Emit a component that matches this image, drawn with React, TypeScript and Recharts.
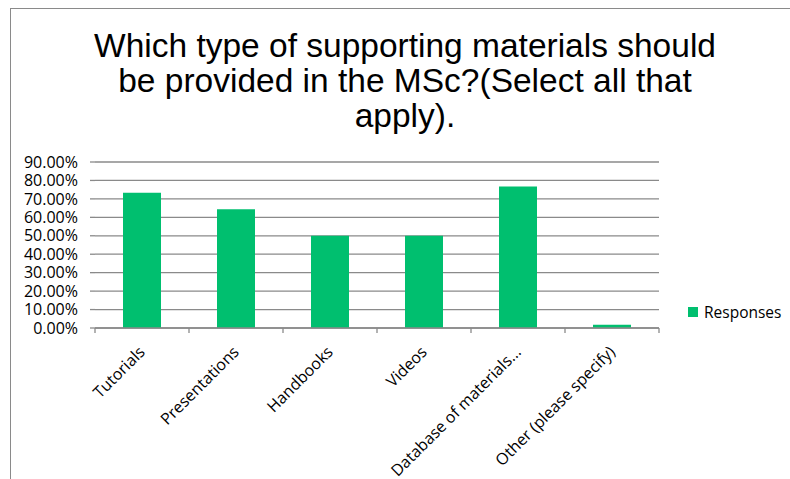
import { BarChart, Bar, XAxis, YAxis, CartesianGrid } from 'recharts'

const categories = ['Tutorials', 'Presentations', 'Handbooks', 'Videos', 'Database of materials...', 'Other (please specify)']
const responses = [73.3, 64.4, 50.0, 50.0, 76.7, 1.8]
const yTicks = [0, 10, 20, 30, 40, 50, 60, 70, 80, 90]

const data = categories.map((name, i) => ({ name, Responses: responses[i] }))

const GREEN = '#00BF6F'
const GRID = '#8a8a8a'
const FONT = '"Open Sans", sans-serif'
const W = 790
const H = 479
const margin = { top: 162, right: 131, left: 0, bottom: 11 }
const band = (W - 95 - margin.right) / categories.length

function XTick({ x, y, payload, index }: any) {
  const last = index === categories.length - 1
  const tx = x + 4
  const ty = y + 25
  return (
    <g>
      <line x1={x - band / 2} y1={y} x2={x - band / 2} y2={y + 5} stroke={GRID} strokeWidth={1.3} />
      {last && <line x1={x + band / 2} y1={y} x2={x + band / 2} y2={y + 5} stroke={GRID} strokeWidth={1.3} />}
      <text x={tx} y={ty} transform={`rotate(-45, ${tx}, ${ty})`}
        textAnchor="end" fontSize={16} fill="#000" fontFamily={FONT}>
        {payload.value}
      </text>
    </g>
  )
}

export default function App() {
  return (
    <div style={{ position: 'absolute', left: 0, top: 0, width: W, height: H, overflow: 'hidden', background: '#fff' }}>
      <div style={{ position: 'absolute', left: 10, top: 8, width: 800, height: 500,
        borderTop: `1.5px solid ${GRID}`, borderLeft: `1.5px solid ${GRID}` }} />
      <div style={{ position: 'absolute', left: 30, top: 28, width: 750, textAlign: 'center',
        fontFamily: '"Liberation Sans", Arial', fontSize: 33.5, lineHeight: '35px', color: '#000' }}>
        Which type of supporting materials should<br />
        be provided in the MSc?(Select all that<br />
        apply).
      </div>
      <div style={{ position: 'absolute', left: 0, top: 0 }}>
        <BarChart width={W} height={H} data={data} margin={margin}>
          <CartesianGrid vertical={false} stroke={GRID} strokeWidth={1.3} />
          <XAxis dataKey="name" interval={0} height={140} tickLine={false} tickSize={0} tickMargin={0}
            axisLine={{ stroke: GRID, strokeWidth: 1.3 }} tick={<XTick />} />
          <YAxis width={95} domain={[0, 90]} ticks={yTicks} interval={0} axisLine={false}
            tickLine={{ stroke: GRID, strokeWidth: 1.3 }} tickSize={5} tickMargin={12}
            tick={{ fontSize: 16, fill: '#000', fontFamily: FONT }}
            tickFormatter={(v: number) => `${v.toFixed(2)}%`} />
          <Bar dataKey="Responses" fill={GREEN} barSize={38} isAnimationActive={false} />
        </BarChart>
      </div>
      <div style={{ position: 'absolute', left: 688, top: 301, display: 'flex', alignItems: 'center',
        fontFamily: FONT, fontSize: 15.5, color: '#000', whiteSpace: 'nowrap' }}>
        <span style={{ width: 10, height: 10, background: GREEN, marginRight: 6, display: 'inline-block' }} />
        Responses
      </div>
    </div>
  )
}
